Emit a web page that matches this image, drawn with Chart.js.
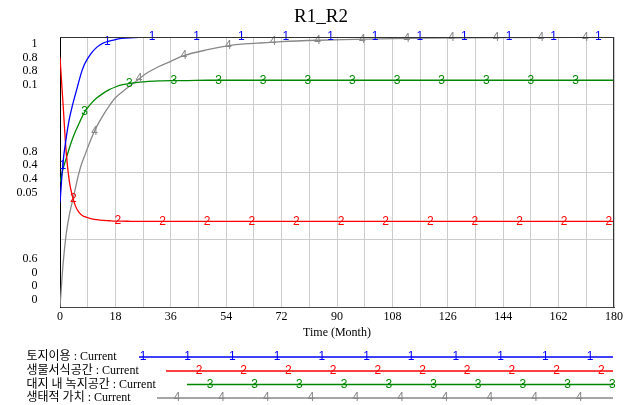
<!DOCTYPE html>
<html>
<head>
<meta charset="utf-8">
<script src="https://cdn.jsdelivr.net/npm/chart.js@4/dist/chart.umd.min.js"></script>
<style>
  html, body { margin: 0; padding: 0; background: #fff; }
  #wrap { width: 640px; height: 405px; }
</style>
</head>
<body>
<div id="wrap"><canvas id="c" width="640" height="405"></canvas></div>
<script>
// time axis (months)
const months = [0, 1, 2, 3, 4, 5, 6, 7, 8, 10, 12, 14, 16, 18, 20, 24, 28, 32, 36, 40, 48, 56, 64, 72, 84, 96, 108, 120, 144, 180];

// 토지이용
const landUse = [0.755, 0.815, 0.85, 0.878, 0.898, 0.915, 0.932, 0.948, 0.96, 0.975, 0.985, 0.991, 0.994, 0.996, 0.998, 0.999, 1, 1, 1, 1, 1, 1, 1, 1, 1, 1, 1, 1, 1, 1];
// 생물서식공간
const habitat = [0.739, 0.6, 0.46, 0.375, 0.33, 0.3, 0.283, 0.273, 0.268, 0.262, 0.259, 0.257, 0.256, 0.255, 0.255, 0.254, 0.254, 0.254, 0.254, 0.254, 0.254, 0.254, 0.254, 0.254, 0.254, 0.254, 0.254, 0.254, 0.254, 0.254];
// 대지 내 녹지공간
const greenSpace = [0.37, 0.41, 0.44, 0.47, 0.497, 0.52, 0.54, 0.56, 0.578, 0.602, 0.62, 0.633, 0.644, 0.652, 0.658, 0.664, 0.668, 0.67, 0.671, 0.671, 0.672, 0.672, 0.672, 0.672, 0.672, 0.672, 0.672, 0.672, 0.672, 0.672];
// 생태적 가치
const ecoValue = [0, 0.016, 0.027, 0.034, 0.039, 0.044, 0.049, 0.053, 0.056, 0.062, 0.067, 0.071, 0.0745, 0.0775, 0.0795, 0.083, 0.0865, 0.089, 0.091, 0.093, 0.0953, 0.097, 0.0977, 0.0983, 0.0988, 0.0991, 0.0994, 0.0996, 0.0998, 0.0999];

const seriesNames = ['토지이용 : Current', '생물서식공간 : Current', '대지 내 녹지공간 : Current', '생태적 가치 : Current'];
const colors = ['#0000ff', '#ff0000', '#008800', '#888888'];

// stacked y tick labels (bottom, middle, top) for each of the four scales
const yTicks1 = ['0.6', '0.8', '1'];
const yTicks2 = ['0', '0.4', '0.8'];
const yTicks3 = ['0', '0.4', '0.8'];
const yTicks4 = ['0', '0.05', '0.1'];

const serif = '"Liberation Serif", "Noto Sans CJK KR", serif';
const sans = '"Liberation Sans", Arial, sans-serif';

function pts(vals) {
  return months.map((m, i) => ({ x: m, y: vals[i] }));
}

function valueAt(vals, t) {
  for (let i = 1; i < months.length; i++) {
    if (t <= months[i]) {
      const f = (t - months[i - 1]) / (months[i] - months[i - 1]);
      return vals[i - 1] + f * (vals[i] - vals[i - 1]);
    }
  }
  return vals[vals.length - 1];
}

const axisIds = ['y', 'y2', 'y3', 'y4'];
const allVals = [landUse, habitat, greenSpace, ecoValue];
const labelStart = [0.9, 4.3, 8.0, 11.2];

const vensim = {
  id: 'vensim',
  afterDatasetsDraw(chart) {
    const ctx = chart.ctx;
    ctx.save();
    ctx.font = '12px ' + sans;
    ctx.textAlign = 'center';
    ctx.textBaseline = 'middle';
    for (let s = 0; s < 4; s++) {
      ctx.fillStyle = colors[s];
      for (let t = labelStart[s]; t <= 180; t += 14.5) {
        const x = chart.scales.x.getPixelForValue(t);
        const y = chart.scales[axisIds[s]].getPixelForValue(valueAt(allVals[s], t));
        ctx.fillText(String(s + 1), x, y);
      }
    }
    ctx.restore();
  },
  afterDraw(chart) {
    const ctx = chart.ctx;
    const a = chart.chartArea;
    ctx.save();
    // frame
    ctx.strokeStyle = '#333';
    ctx.lineWidth = 1;
    ctx.beginPath();
    ctx.moveTo(a.left, a.top + 0.5);
    ctx.lineTo(a.right - 0.5, a.top + 0.5);
    ctx.lineTo(a.right - 0.5, a.bottom);
    ctx.stroke();

    // title
    ctx.fillStyle = '#000';
    ctx.font = '19px ' + serif;
    ctx.textAlign = 'center';
    ctx.textBaseline = 'middle';
    ctx.fillText('R1_R2', 321, 17);

    // stacked y labels
    ctx.font = '12px ' + serif;
    ctx.textAlign = 'right';
    const groups = [yTicks1, yTicks2, yTicks3, yTicks4];
    const lh = 13.6;
    const ys = chart.scales.y;
    for (let k = 0; k < 3; k++) {
      const val = ys.min + (ys.max - ys.min) * k / 2;
      const py = ys.getPixelForValue(val);
      let first = py - lh * 1.5;
      if (first < a.top + 7) first = a.top + 7;
      if (first + lh * 3 > a.bottom - 7.5) first = a.bottom - 7.5 - lh * 3;
      for (let s = 0; s < 4; s++) {
        ctx.fillText(groups[s][k], 37.5, first + s * lh);
      }
    }

    // legend
    const rowY = [357, 371, 384.5, 398];
    const lineStart = [139, 166, 187, 157];
    const markStart = [143, 199, 210, 177];
    for (let s = 0; s < 4; s++) {
      ctx.textAlign = 'left';
      ctx.fillStyle = '#000';
      ctx.font = '12px ' + serif;
      ctx.fillText(seriesNames[s], 26.5, rowY[s]);
      ctx.strokeStyle = colors[s];
      ctx.lineWidth = 1.6;
      ctx.beginPath();
      ctx.moveTo(lineStart[s], rowY[s]);
      ctx.lineTo(613, rowY[s]);
      ctx.stroke();
      ctx.fillStyle = colors[s];
      ctx.font = '12px ' + sans;
      ctx.textAlign = 'center';
      for (let x = markStart[s]; x <= 614; x += 44.7) {
        ctx.fillText(String(s + 1), x, rowY[s]);
      }
    }
    ctx.restore();
  }
};

function ds(vals, i) {
  return {
    label: seriesNames[i],
    data: pts(vals),
    borderColor: colors[i],
    borderWidth: 1.3,
    pointRadius: 0,
    cubicInterpolationMode: 'monotone',
    yAxisID: axisIds[i]
  };
}

new Chart(document.getElementById('c'), {
  type: 'line',
  data: {
    datasets: [ds(landUse, 0), ds(habitat, 1), ds(greenSpace, 2), ds(ecoValue, 3)]
  },
  options: {
    responsive: false,
    animation: false,
    layout: { padding: { top: 37, left: 60, right: 26, bottom: 65 } },
    plugins: {
      legend: { display: false },
      tooltip: { enabled: false },
      title: { display: false }
    },
    scales: {
      x: {
        type: 'linear',
        min: 0,
        max: 180,
        ticks: {
          stepSize: 9,
          autoSkip: false,
          maxRotation: 0,
          padding: 2,
          color: '#000',
          font: { family: serif, size: 12 },
          callback: v => (v % 18 === 0 ? String(v) : '')
        },
        grid: { color: '#cccccc', drawTicks: false },
        border: { color: '#444' },
        title: {
          display: true,
          text: 'Time (Month)',
          color: '#000',
          font: { family: serif, size: 12 },
          padding: { top: 0, bottom: 0 }
        }
      },
      y: {
        min: 0.6,
        max: 1,
        ticks: { display: false, stepSize: 0.1 },
        grid: { color: '#cccccc', drawTicks: false },
        border: { color: '#000' }
      },
      y2: { display: false, min: 0, max: 0.8 },
      y3: { display: false, min: 0, max: 0.8 },
      y4: { display: false, min: 0, max: 0.1 }
    }
  },
  plugins: [vensim]
});
</script>
</body>
</html>
